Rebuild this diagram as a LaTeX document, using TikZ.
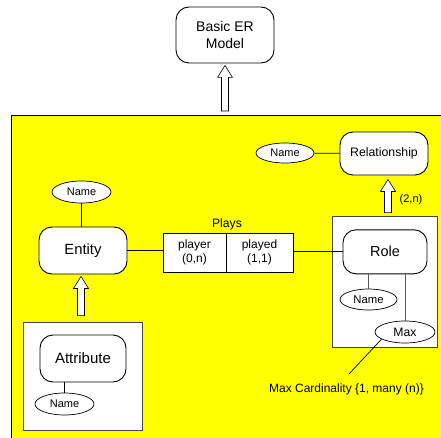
\documentclass[tikz,border=0pt]{standalone}
\usepackage{fontspec}
\setmainfont{Liberation Sans}
\usetikzlibrary{shapes.geometric,calc}
\definecolor{bgyellow}{RGB}{255,255,0}
\tikzset{
  rbox/.style={draw=black, line width=0.9pt, fill=white, rounded corners=13pt, inner sep=0pt, align=center},
  oval/.style={draw=black, line width=0.7pt, fill=white, ellipse, inner sep=0pt, font=\fontsize{11}{13}\selectfont},
  outerbox/.style={draw=gray!55!black, line width=0.8pt, fill=white},
  cell/.style={draw=black, line width=0.7pt, fill=white, inner sep=0pt, align=center, font=\fontsize{12}{14}\selectfont},
  link/.style={draw=black, line width=0.7pt},
  glink/.style={draw=gray!70!black, line width=1pt},
  hollow/.style={draw=black, line width=0.6pt, fill=white},
}
\newcommand\hollowarrow[2]{%
  \draw[hollow] let \p1=(#1), \p2=(#2) in
    (\x1-3.5pt,\y1) -- (\x1-3.5pt,\y2-12pt) -- (\x1-7.5pt,\y2-12pt) -- (\x1,\y2)
    -- (\x1+7.5pt,\y2-12pt) -- (\x1+3.5pt,\y2-12pt) -- (\x1+3.5pt,\y1) -- cycle;}
\begin{document}
\begin{tikzpicture}[x=1pt,y=1pt]
\useasboundingbox (0,0) rectangle (441,437);
% yellow area
\fill[bgyellow] (11,-5) rectangle (446,322);
\draw[black, line width=0.8pt] (446,322) -- (11,322) -- (11,-5);
% top node
\node[rbox, minimum width=98, minimum height=56, font=\fontsize{14}{17}\selectfont] (basic) at (225,402) {Basic ER\\Model};
% outer boxes
\node[outerbox, minimum width=105, minimum height=131, inner sep=0pt] (roleouter) at (384.5,155.5) {};
\node[outerbox, minimum width=119, minimum height=108, inner sep=0pt] (attrouter) at (82.5,61) {};
% relationship
\node[rbox, minimum width=88, minimum height=43, font=\fontsize{12.3}{14}\selectfont] (rel) at (384,283.5) {Relationship};
\node[oval, minimum width=58, minimum height=20] (relname) at (285,284) {Name};
\draw[link] (relname) -- (rel);
% role
\node[rbox, minimum width=84, minimum height=44, font=\fontsize{14.5}{16}\selectfont] (role) at (385,185.2) {Role};
\node[oval, minimum width=57, minimum height=21, font=\fontsize{11.3}{13}\selectfont] (rolename) at (368.5,137.5) {Name};
\node[oval, minimum width=60, minimum height=22, font=\fontsize{12.2}{14}\selectfont] (max) at (405,105) {Max};
\draw[glink] (role.south -| rolename.north) -- (rolename.north);
\draw[glink] (role.south -| max.north) -- (max.north);
\coordinate (maxend) at (349,63);
\draw[link] (max.197) -- (maxend);
\node[font=\fontsize{12}{14}\selectfont] (maxtext) at (346.5,48) {Max Cardinality \{1, many (n)\}};
\hollowarrow{[xshift=3.5pt,yshift=3pt]roleouter.north}{[xshift=3.5pt,yshift=-4pt]rel.south}
\node[font=\fontsize{11}{13}\selectfont] (twon) at (411,237) {(2,n)};
% entity
\node[rbox, minimum width=88, minimum height=47, font=\fontsize{14.8}{16}\selectfont] (entity) at (83,186.5) {Entity};
\node[oval, minimum width=59, minimum height=22] (entname) at (81.5,245) {Name};
\draw[link] (entname) -- (entname |- entity.north);
% plays
\node[cell, minimum width=63, minimum height=39] (player) at (194.5,184.5) {player\\(0,n)};
\node[cell, minimum width=67, minimum height=39] (played) at (259.5,184.5) {played\\(1,1)};
\node[font=\fontsize{12.2}{14}\selectfont] (plays) at (227,213) {Plays};
\draw[link] (entity.east) -- (entity.east -| player.west);
\draw[link] (role.west -| played.east) -- (role.west);
% attribute
\node[rbox, minimum width=86, minimum height=47, font=\fontsize{15}{17}\selectfont] (attr) at (83,78.5) {Attribute};
\node[oval, minimum width=59, minimum height=22] (attrname) at (64.5,33) {Name};
\draw[link] (attr.south -| attrname.north) -- (attrname.north);
\hollowarrow{[xshift=-1.5pt,yshift=6pt]attrouter.north}{[yshift=-2pt]entity.south}
% top arrow
\coordinate (ytop) at (225,322);
\hollowarrow{[yshift=4pt]ytop}{[yshift=-2pt]basic.south}
\end{tikzpicture}
\end{document}
